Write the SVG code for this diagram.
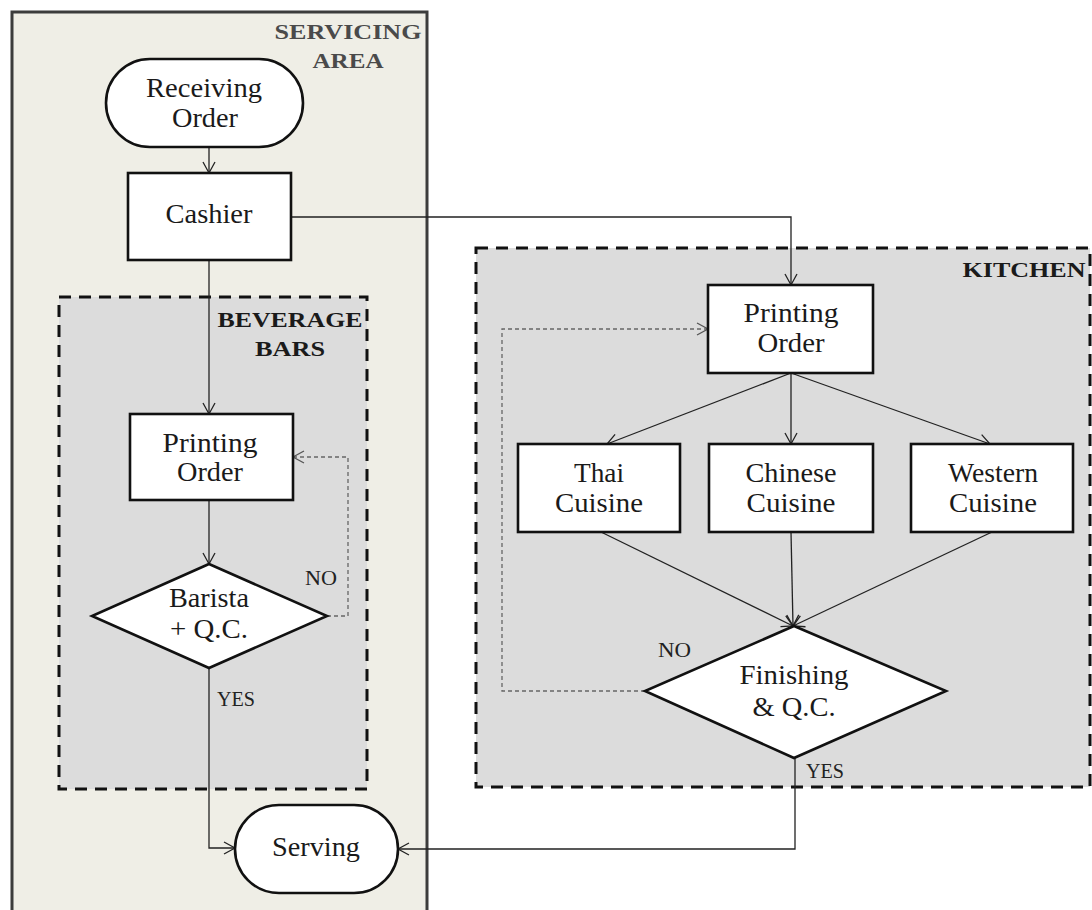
<svg xmlns="http://www.w3.org/2000/svg" width="1092" height="910" viewBox="0 0 1092 910">
  <defs>
    <marker id="arrow" markerUnits="userSpaceOnUse" markerWidth="14" markerHeight="14" viewBox="-1 -7 14 14" refX="11" refY="0" orient="auto">
      <path d="M0,-6 L11,0 L0,6" fill="none" stroke="#222" stroke-width="1.3"/>
    </marker>
    <marker id="arrow-dash" markerUnits="userSpaceOnUse" markerWidth="14" markerHeight="14" viewBox="-1 -7 14 14" refX="11" refY="0" orient="auto">
      <path d="M0,-6 L11,0 L0,6" fill="none" stroke="#555" stroke-width="1.3"/>
    </marker>
    <style>
      .area { fill: #efeee6; stroke: #3c3c3c; stroke-width: 3; }
      .zone { fill: #dcdcdc; stroke: #111; stroke-width: 3; stroke-dasharray: 12 8; }
      .box { fill: #fff; stroke: #111; stroke-width: 2.6; }
      .node-text { font-family: "Liberation Serif", "Times New Roman", serif; font-size: 28px; fill: #1a1a1a; text-anchor: middle; }
      .zone-title { font-family: "Liberation Serif", "Times New Roman", serif; font-size: 22px; font-weight: bold; fill: #1a1a1a; text-anchor: middle; }
      .area-title { fill: #4a4a4a; }
      .tag { font-family: "Liberation Serif", "Times New Roman", serif; font-size: 20px; fill: #222; }
      .link { fill: none; stroke: #222; stroke-width: 1.3; }
      .loop { fill: none; stroke: #666; stroke-width: 1.3; stroke-dasharray: 4 3; }
    </style>
  </defs>

  <rect width="1092" height="910" fill="#fff"/>

  <!-- Containers -->
  <g id="servicing-area">
    <rect class="area" x="12" y="12" width="415" height="910"/>
    <text class="zone-title area-title" x="348" y="39" textLength="147" lengthAdjust="spacingAndGlyphs">SERVICING</text>
    <text class="zone-title area-title" x="348" y="68" textLength="71" lengthAdjust="spacingAndGlyphs">AREA</text>
  </g>
  <g id="beverage-bars">
    <rect class="zone" x="59" y="297" width="308" height="492"/>
    <text class="zone-title" x="290" y="327" textLength="145" lengthAdjust="spacingAndGlyphs">BEVERAGE</text>
    <text class="zone-title" x="290" y="356" textLength="70" lengthAdjust="spacingAndGlyphs">BARS</text>
  </g>
  <g id="kitchen">
    <rect class="zone" x="476" y="248" width="614" height="539"/>
    <text class="zone-title" x="1024" y="277" textLength="123" lengthAdjust="spacingAndGlyphs">KITCHEN</text>
  </g>

  <!-- Connectors -->
  <g id="connectors">
    <line class="link" x1="209" y1="147" x2="209" y2="173" marker-end="url(#arrow)"/>
    <polyline class="link" points="291,217 791,217 791,285" marker-end="url(#arrow)"/>
    <line class="link" x1="209" y1="260" x2="209" y2="414" marker-end="url(#arrow)"/>
    <line class="link" x1="209" y1="500" x2="209" y2="564" marker-end="url(#arrow)"/>
    <polyline class="loop" points="327,616 348,616 348,457 293,457" marker-end="url(#arrow-dash)"/>
    <polyline class="link" points="209,668 209,848 235,848" marker-end="url(#arrow)"/>

    <line class="link" x1="791" y1="373" x2="607" y2="444" marker-end="url(#arrow)"/>
    <line class="link" x1="791" y1="373" x2="791" y2="444" marker-end="url(#arrow)"/>
    <line class="link" x1="791" y1="373" x2="990" y2="444" marker-end="url(#arrow)"/>
    <line class="link" x1="601" y1="532" x2="793" y2="626" marker-end="url(#arrow)"/>
    <line class="link" x1="791" y1="532" x2="793" y2="626" marker-end="url(#arrow)"/>
    <line class="link" x1="992" y1="532" x2="793" y2="626" marker-end="url(#arrow)"/>
    <polyline class="loop" points="645,691 502,691 502,329 708,329" marker-end="url(#arrow-dash)"/>
    <polyline class="link" points="795,758 795,849 398,849" marker-end="url(#arrow)"/>

    <text class="tag" x="305" y="585" textLength="32" lengthAdjust="spacingAndGlyphs">NO</text>
    <text class="tag" x="217" y="706" textLength="38" lengthAdjust="spacingAndGlyphs">YES</text>
    <text class="tag" x="658" y="657" textLength="33" lengthAdjust="spacingAndGlyphs">NO</text>
    <text class="tag" x="806" y="778" textLength="38" lengthAdjust="spacingAndGlyphs">YES</text>
  </g>

  <!-- Nodes -->
  <g id="receiving-order">
    <rect class="box" x="106" y="59" width="197" height="88" rx="44" ry="44"/>
    <text class="node-text" x="204" y="97" textLength="116" lengthAdjust="spacingAndGlyphs">Receiving</text>
    <text class="node-text" x="205" y="127" textLength="66" lengthAdjust="spacingAndGlyphs">Order</text>
  </g>
  <g id="cashier">
    <rect class="box" x="128" y="173" width="163" height="87"/>
    <text class="node-text" x="209" y="223" textLength="87" lengthAdjust="spacingAndGlyphs">Cashier</text>
  </g>
  <g id="bar-printing-order">
    <rect class="box" x="130" y="414" width="163" height="86"/>
    <text class="node-text" x="210" y="452" textLength="95" lengthAdjust="spacingAndGlyphs">Printing</text>
    <text class="node-text" x="210" y="481" textLength="66" lengthAdjust="spacingAndGlyphs">Order</text>
  </g>
  <g id="barista-qc">
    <polygon class="box" points="209,564 327,616 209,668 92,616"/>
    <text class="node-text" x="209" y="607" textLength="80" lengthAdjust="spacingAndGlyphs">Barista</text>
    <text class="node-text" x="209" y="638" textLength="78" lengthAdjust="spacingAndGlyphs">+ Q.C.</text>
  </g>
  <g id="serving">
    <rect class="box" x="235" y="805" width="163" height="88" rx="44" ry="44"/>
    <text class="node-text" x="316" y="856" textLength="88" lengthAdjust="spacingAndGlyphs">Serving</text>
  </g>
  <g id="kitchen-printing-order">
    <rect class="box" x="708" y="285" width="165" height="88"/>
    <text class="node-text" x="791" y="322" textLength="95" lengthAdjust="spacingAndGlyphs">Printing</text>
    <text class="node-text" x="791" y="352" textLength="67" lengthAdjust="spacingAndGlyphs">Order</text>
  </g>
  <g id="thai-cuisine">
    <rect class="box" x="518" y="444" width="162" height="88"/>
    <text class="node-text" x="599" y="482" textLength="50" lengthAdjust="spacingAndGlyphs">Thai</text>
    <text class="node-text" x="599" y="512" textLength="88" lengthAdjust="spacingAndGlyphs">Cuisine</text>
  </g>
  <g id="chinese-cuisine">
    <rect class="box" x="709" y="444" width="164" height="88"/>
    <text class="node-text" x="791" y="482" textLength="91" lengthAdjust="spacingAndGlyphs">Chinese</text>
    <text class="node-text" x="791" y="512" textLength="89" lengthAdjust="spacingAndGlyphs">Cuisine</text>
  </g>
  <g id="western-cuisine">
    <rect class="box" x="911" y="444" width="162" height="88"/>
    <text class="node-text" x="993" y="482" textLength="90" lengthAdjust="spacingAndGlyphs">Western</text>
    <text class="node-text" x="993" y="512" textLength="88" lengthAdjust="spacingAndGlyphs">Cuisine</text>
  </g>
  <g id="finishing-qc">
    <polygon class="box" points="794,626 946,691 794,758 645,691"/>
    <text class="node-text" x="794" y="684" textLength="109" lengthAdjust="spacingAndGlyphs">Finishing</text>
    <text class="node-text" x="794" y="716" textLength="83" lengthAdjust="spacingAndGlyphs">&amp; Q.C.</text>
  </g>
</svg>
